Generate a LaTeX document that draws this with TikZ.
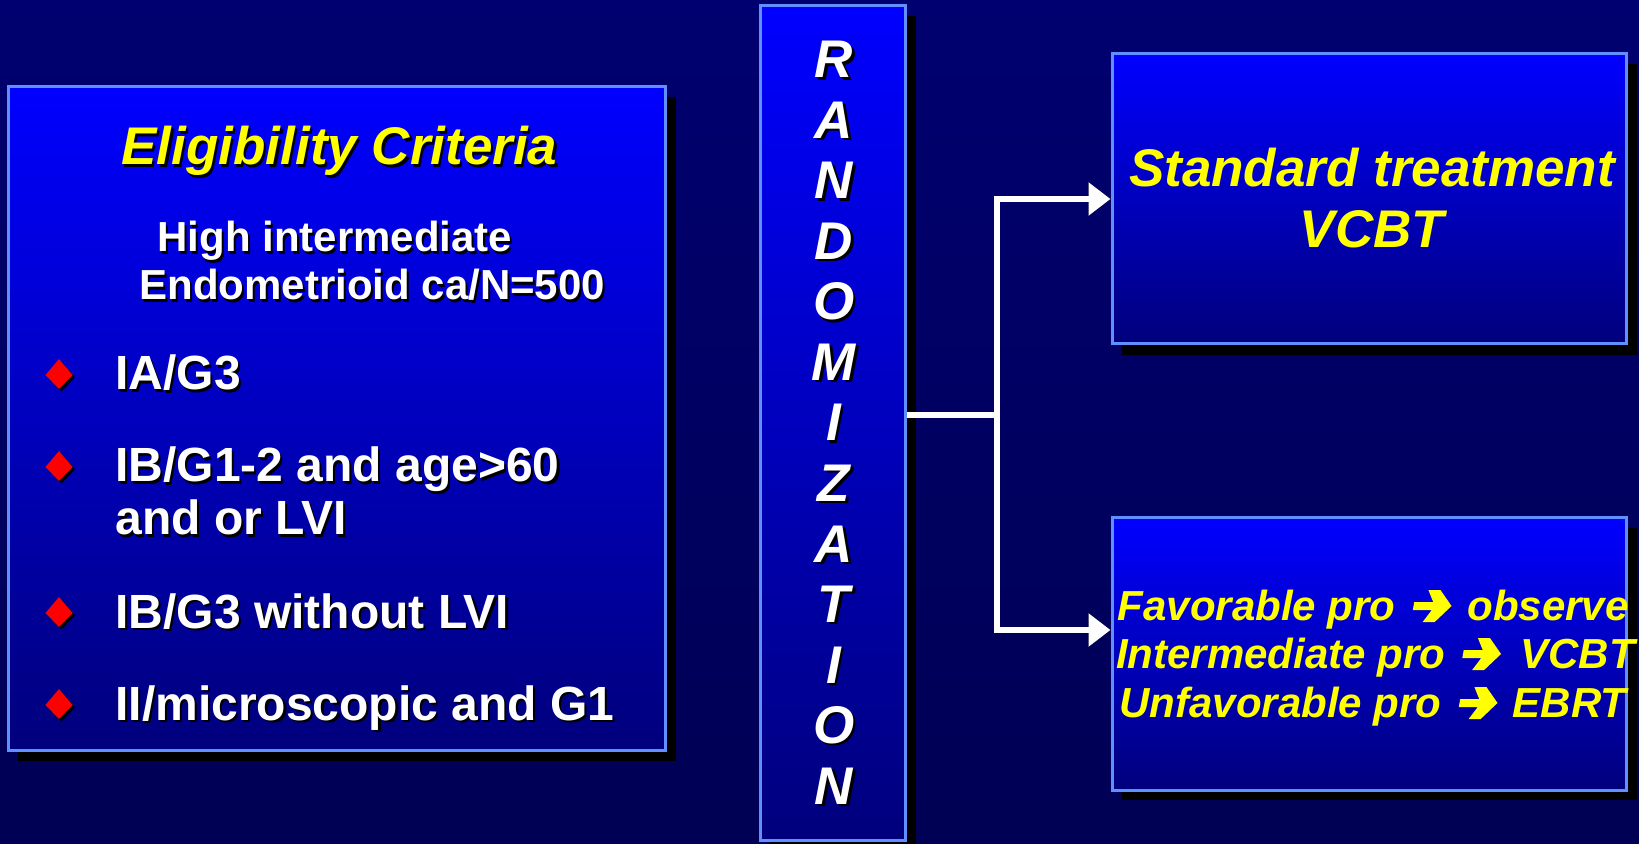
\documentclass[tikz,border=0pt]{standalone}
\usepackage{fontspec}
\setmainfont{Liberation Sans}
\usetikzlibrary{arrows.meta}

\definecolor{navytop}{RGB}{0,0,112}
\definecolor{navybot}{RGB}{0,0,84}
\definecolor{boxtop}{RGB}{0,0,255}
\definecolor{boxbot}{RGB}{0,0,124}
\definecolor{boxedge}{RGB}{96,144,255}
\definecolor{hlyellow}{RGB}{255,255,0}
\definecolor{bulletred}{RGB}{255,0,0}

% text with a small black drop shadow
\newcommand\dropsh[1]{\leavevmode\rlap{\kern1.1pt\raisebox{-1.1pt}{\color{black}#1}}#1}

\tikzset{
  panel/.style={draw=boxedge, line width=1.5pt, top color=boxtop, bottom color=boxbot, inner sep=0pt},
  panelshadow/.style={fill=black},
  whitetxt/.style={text=white, font=\bfseries\fontsize{24}{28}\selectfont, inner sep=0pt, anchor=base west},
  subtxt/.style={text=white, font=\bfseries\fontsize{21}{25}\selectfont, inner sep=0pt, anchor=base west},
  titletxt/.style={text=hlyellow, font=\bfseries\itshape\fontsize{26.5}{30.5}\selectfont, inner sep=0pt},
  lettertxt/.style={text=white, font=\bfseries\itshape\fontsize{26.5}{30}\selectfont, inner sep=0pt, anchor=base},
  armtxt/.style={text=hlyellow, font=\bfseries\itshape\fontsize{21}{24}\selectfont, inner sep=0pt},
  bullet/.style={fill=bulletred, draw=none},
  link/.style={draw=white, line width=2.75pt},
  linkshadow/.style={draw=black, fill=black, line width=2.75pt},
  tip/.style={-{Triangle[length=11pt,width=16pt]}},
  % heavy arrow glyph, origin at its left end on the baseline
  glyph/.style={fill=hlyellow, xslant=0.18},
}

\begin{document}
\begin{tikzpicture}[x=0.5pt, y=-0.5pt]
  \useasboundingbox (0,0) rectangle (1639,844);
  % background
  \shade[top color=navytop, bottom color=navybot] (0,0) rectangle (1639,844);

  % panel shadows
  \fill[panelshadow] (18,97) rectangle (676,761);
  \fill[panelshadow] (770,16) rectangle (916,844);
  \fill[panelshadow] (1122,64) rectangle (1637,355);
  \fill[panelshadow] (1122,528) rectangle (1637,800);

  % panels
  \node[panel, minimum width=657*0.5pt, minimum height=663*0.5pt] (crit) at (336.5,418.5) {};
  \node[panel, minimum width=145*0.5pt, minimum height=834*0.5pt] (rand) at (832.5,423) {};
  \node[panel, minimum width=514*0.5pt, minimum height=290*0.5pt] (std) at (1369,199) {};
  \node[panel, minimum width=514*0.5pt, minimum height=272*0.5pt] (prof) at (1369,654) {};

  % eligibility panel text
  \node[titletxt, anchor=base] (crittitle) at (339.5,165) {\dropsh{Eligibility Criteria}};
  \node[subtxt] (sub1) at (157,252) {\dropsh{High intermediate}};
  \node[subtxt] (sub2) at (139,300) {\dropsh{Endometrioid ca/N=500}};

  % diamond bullets
  \foreach \yb in {375, 467, 613, 705} {
    \fill[black] (61.5,\yb-13.5) -- (75,\yb+2.5) -- (61.5,\yb+16.5) -- (48,\yb+2.5) -- cycle;
    \fill[bullet] (59,\yb-16) -- (72.5,\yb) -- (59,\yb+14) -- (45.5,\yb) -- cycle;
  }
  \node[whitetxt] (it1) at (115,390) {\dropsh{IA/G3}};
  \node[whitetxt] (it2) at (115,482) {\dropsh{IB/G1-2 and age>60}};
  \node[whitetxt] (it2b) at (115,535) {\dropsh{and or LVI}};
  \node[whitetxt] (it3) at (115,628) {\dropsh{IB/G3 without LVI}};
  \node[whitetxt] (it4) at (115,720) {\dropsh{II/microscopic and G1}};

  % vertical lettering
  \foreach \ch [count=\i from 0] in {R,A,N,D,O,M,I,Z,A,T,I,O,N} {
    \node[lettertxt] (L\i) at (834,78+60.5*\i) {\dropsh{\ch}};
  }

  % standard arm text
  \node[titletxt, align=center, anchor=base] (stdtxt) at (1372,248)
    {Standard treatment\\VCBT};

  % profile arm text: left part, arrow glyph, right part
  \node[armtxt, anchor=base east] (favL) at (1396,620) {Favorable pro};
  \node[armtxt, anchor=base west] (favR) at (1467,620) {observe};
  \node[armtxt, anchor=base east] (intL) at (1445.5,668) {Intermediate pro};
  \node[armtxt, anchor=base west] (intR) at (1520,668) {VCBT};
  \node[armtxt, anchor=base east] (unfL) at (1442,717) {Unfavorable pro};
  \node[armtxt, anchor=base west] (unfR) at (1512.5,717) {EBRT};
  \foreach \gx/\gy in {1411/620, 1460.5/668, 1457/717} {
    \fill[shift={(\gx,\gy)}, glyph]
      (0,-18) -- (19,-18) -- (12,-30) -- (24,-30) -- (38,-14)
      -- (24,2) -- (12,2) -- (19,-10) -- (0,-10) -- cycle;
  }

  % connectors
  \coordinate (junc) at (997,415);
  \coordinate (armA) at (997,199);
  \coordinate (armB) at (997,630);
  \begin{scope}[shift={(5,5)}]
    \draw[linkshadow] (rand.east |- junc) -- (junc);
    \draw[linkshadow, line cap=rect] (armA) -- (armB);
    \draw[linkshadow, tip] (armA) -- (std.west |- armA);
    \draw[linkshadow, tip] (armB) -- (prof.west |- armB);
  \end{scope}
  \draw[link] (rand.east |- junc) -- (junc);
  \draw[link, line cap=rect] (armA) -- (armB);
  \draw[link, tip] (armA) -- (std.west |- armA);
  \draw[link, tip] (armB) -- (prof.west |- armB);
\end{tikzpicture}
\end{document}
